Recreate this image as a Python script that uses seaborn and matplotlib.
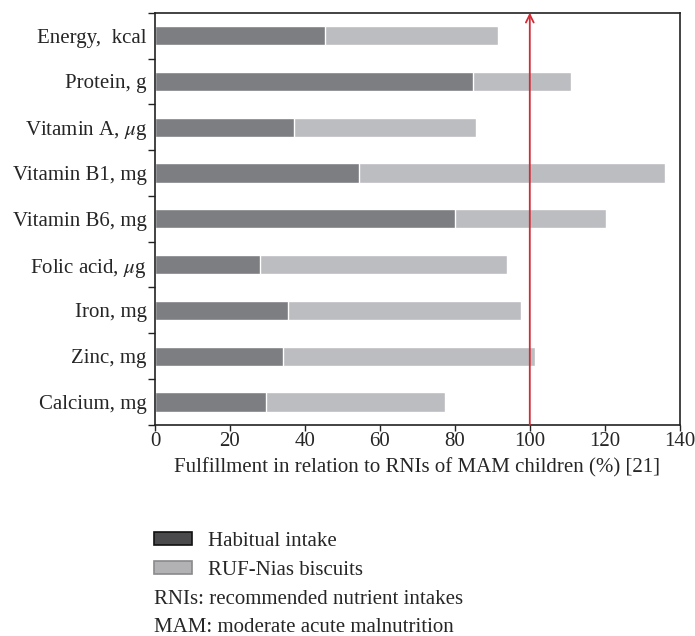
import numpy as np
import pandas as pd
import matplotlib
matplotlib.use("Agg")
import matplotlib.pyplot as plt
import seaborn as sns
from matplotlib.patches import Patch

# data
nutrients = ["Energy,  kcal", "Protein, g", "Vitamin A, $\\mu$g", "Vitamin B1, mg",
             "Vitamin B6, mg", "Folic acid, $\\mu$g", "Iron, mg", "Zinc, mg", "Calcium, mg"]
habitual = [45.3, 84.9, 37.1, 54.4, 80.0, 27.9, 35.6, 34.1, 29.6]
biscuits = [46.3, 26.2, 48.5, 81.7, 40.3, 65.9, 62.0, 67.3, 47.8]
xticks = [0, 20, 40, 60, 80, 100, 120, 140]
rni_line = 100

sns.set_theme(style="white")
plt.rcParams['font.family'] = ['Liberation Serif', 'DejaVu Serif']
plt.rcParams['mathtext.fontset'] = 'stix'

df = pd.DataFrame({"nutrient": nutrients, "habitual": habitual, "biscuits": biscuits})
df["total"] = df["habitual"] + df["biscuits"]

dark = "#7d7e82"
light = "#bcbdc1"
fs = 15

fig = plt.figure(figsize=(6.95, 6.36), dpi=100)
ax = fig.add_axes([0.223, 0.332, 0.755, 0.648])

sns.barplot(data=df, y="nutrient", x="total", color=light, orient="h",
            width=0.42, saturation=1, ax=ax)
sns.barplot(data=df, y="nutrient", x="habitual", color=dark, orient="h",
            width=0.42, saturation=1, ax=ax)

ax.set_xlim(0, 140)
ax.set_ylim(len(nutrients) - 0.5, -0.5)
ax.set_xticks(xticks)
ax.set_xticklabels([str(t) for t in xticks], fontsize=fs)
ax.set_yticks(range(len(nutrients)))
ax.set_yticklabels(nutrients, fontsize=fs)
ax.set_yticks(np.arange(-0.5, len(nutrients), 1.0), minor=True)
ax.tick_params(axis="y", which="major", length=0, pad=6)
ax.tick_params(axis="y", which="minor", length=5, width=1, color="#222222", direction="out", left=True)
ax.tick_params(axis="x", which="major", length=4, width=1, color="#222222", direction="out", bottom=True, pad=1)
ax.set_ylabel("")
ax.set_xlabel("Fulfillment in relation to RNIs of MAM children (%) [21]", fontsize=fs, labelpad=5)
for s in ax.spines.values():
    s.set_visible(True)
    s.set_color("#222222")
    s.set_linewidth(1.2)

# RNI reference arrow
ax.annotate("", xy=(rni_line, -0.5), xytext=(rni_line, len(nutrients) - 0.5),
            arrowprops=dict(arrowstyle="->", color="#d42a34", lw=1.3,
                            shrinkA=0, shrinkB=0, mutation_scale=14))

handles = [Patch(facecolor="#4a4a4c", edgecolor="#111111", lw=1.2, label="Habitual intake"),
           Patch(facecolor="#b2b2b5", edgecolor="#8a8a8c", lw=1.2, label="RUF-Nias biscuits")]
fig.legend(handles=handles, loc="upper left", bbox_to_anchor=(0.222, 0.164), frameon=False,
           fontsize=fs, handlelength=1.8, handleheight=0.6, handletextpad=0.8,
           labelspacing=0.48, borderaxespad=0, borderpad=0)
fig.text(0.222, 0.058, "RNIs: recommended nutrient intakes", fontsize=fs, va="center")
fig.text(0.222, 0.014, "MAM: moderate acute malnutrition", fontsize=fs, va="center")

fig.savefig("out.png", dpi=100)
